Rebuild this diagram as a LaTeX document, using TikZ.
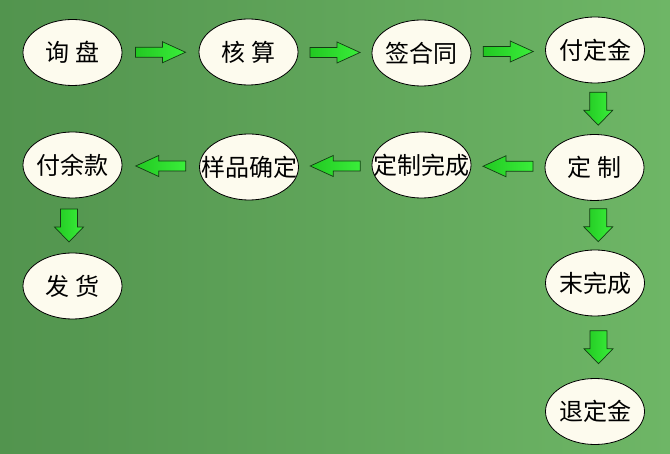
\documentclass[tikz,border=0pt]{standalone}
\usepackage{fontspec}
\setmainfont{Noto Sans CJK SC}
\usetikzlibrary{shapes.geometric,calc}
\definecolor{bgL}{RGB}{82,148,78}
\definecolor{bgR}{RGB}{110,182,102}
\definecolor{nodefill}{RGB}{253,251,238}
\definecolor{arrL}{RGB}{34,200,34}
\definecolor{arrR}{RGB}{58,238,58}
\definecolor{arrline}{RGB}{20,60,20}
\tikzset{
  x=1pt, y=-1pt,
  stepnode/.style={ellipse, draw=black, line width=0.8pt, fill=nodefill,
    minimum width=99pt, minimum height=66pt, inner sep=0pt,
    font=\fontsize{24}{26}\selectfont},
  arrowbody/.style={draw=arrline, line width=0.7pt, left color=arrL, right color=arrR},
  harrow/.pic={\path[arrowbody] (-25,-5) -- (2,-5) -- (2,-10.5) -- (25,0) -- (2,10.5) -- (2,5) -- (-25,5) -- cycle;},
  varrow/.pic={\path[arrowbody] (-16.5,-8.5) -- (1.5,-8.5) -- (1.5,-14.5) -- (16.5,0) -- (1.5,14.5) -- (1.5,8.5) -- (-16.5,8.5) -- cycle;}
}
\newcommand{\lbl}[1]{\makebox[0pt]{#1}}
\newcommand{\gap}{\hspace{0.22em}}
\begin{document}
\begin{tikzpicture}
\useasboundingbox (0,0) rectangle (670,454);
\shade[left color=bgL, right color=bgR] (0,0) rectangle (670,454);
% nodes
\node[stepnode] (xunpan) at (72.5,52.5) {\lbl{询\gap 盘}};
\node[stepnode] (hesuan) at (248.5,52) {\lbl{核\gap 算}};
\node[stepnode] (qianhetong) at (421.5,53) {\lbl{签合同}};
\node[stepnode] (fudingjin) at (595,50) {\lbl{付定金}};
\node[stepnode] (dingzhi) at (594.5,167.5) {\lbl{定\gap 制}};
\node[stepnode] (dzwc) at (421.5,165) {\lbl{定制完成}};
\node[stepnode] (ypqd) at (249,167) {\lbl{样品确定}};
\node[stepnode] (fuyukuan) at (72.5,165) {\lbl{付余款}};
\node[stepnode] (fahuo) at (72.5,286) {\lbl{发\gap 货}};
\node[stepnode] (weiwancheng) at (595,283) {\lbl{末完成}};
\node[stepnode] (tuidingjin) at (595,411.5) {\lbl{退定金}};
% connectors
\pic at ($(xunpan.east)!0.5!(hesuan.west)$) {harrow};
\pic at ($(hesuan.east)!0.5!(qianhetong.west)$) {harrow};
\pic at ($(qianhetong.east)!0.5!(fudingjin.west)$) {harrow};
\pic[rotate=-90] at ($(fudingjin.south)!0.5!(dingzhi.north)+(3.5,0)$) {varrow};
\pic[rotate=180] at ($(dingzhi.west)!0.5!(dzwc.east)$) {harrow};
\pic[rotate=180] at ($(dzwc.west)!0.5!(ypqd.east)$) {harrow};
\pic[rotate=180] at ($(ypqd.west)!0.5!(fuyukuan.east)$) {harrow};
\pic[rotate=-90] at ($(fuyukuan.south)!0.5!(fahuo.north)+(-3.5,0)$) {varrow};
\pic[rotate=-90] at ($(dingzhi.south)!0.5!(weiwancheng.north)+(3.5,0)$) {varrow};
\pic[rotate=-90] at ($(weiwancheng.south)!0.5!(tuidingjin.north)+(3.5,0)$) {varrow};
\end{tikzpicture}
\end{document}
